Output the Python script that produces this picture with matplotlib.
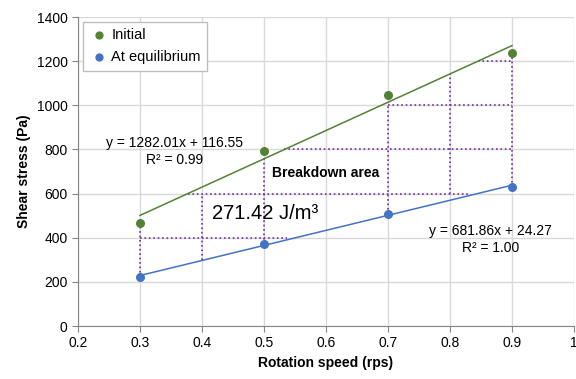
import numpy as np
import matplotlib.pyplot as plt

plt.rcParams['font.family'] = ['Liberation Sans', 'DejaVu Sans']

speed = [0.3, 0.5, 0.7, 0.9]
initial = [467, 792, 1048, 1237]
equilibrium = [220, 373, 506, 632]

# trendline coefficients (slope, intercept) as shown on the chart
fit_initial = (1282.01, 116.55)
fit_equil = (681.86, 24.27)

# dotted guide lines of the breakdown area: (x0, x1, y0, y1)
guides = [
    (0.3, 0.3, 220, 467),
    (0.3, 0.537, 400, 400),
    (0.4, 0.4, 297, 600),
    (0.377, 0.83, 600, 600),
    (0.5, 0.5, 373, 792),
    (0.533, 0.9, 800, 800),
    (0.7, 0.7, 506, 1000),
    (0.7, 0.9, 1000, 1000),
    (0.8, 0.8, 600, 1142),
    (0.845, 0.9, 1200, 1200),
    (0.9, 0.9, 632, 1237),
]

green = '#548235'
blue = '#4472c4'
purple = '#7030a0'

fig = plt.figure(figsize=(5.76, 3.79), dpi=100)
ax = fig.add_axes([0.1354, 0.1398, 0.8611, 0.8153])

for x0, x1, y0, y1 in guides:
    ax.plot([x0, x1], [y0, y1], color=purple, linestyle=':', linewidth=1.2, zorder=2)

xs = np.array([speed[0], speed[-1]])
ax.plot(xs, fit_initial[0] * xs + fit_initial[1], color=green, linewidth=1.1, zorder=3)
ax.plot(xs, fit_equil[0] * xs + fit_equil[1], color=blue, linewidth=1.1, zorder=3)
ax.scatter(speed, initial, color=green, s=30, zorder=4, label='Initial')
ax.scatter(speed, equilibrium, color=blue, s=30, zorder=4, label='At equilibrium')

ax.text(0.356, 790, 'y = %.2fx + %.2f\nR² = 0.99' % fit_initial, ha='center', va='center',
        fontsize=10, linespacing=1.3, zorder=5)
ax.text(0.865, 392, 'y = %.2fx + %.2f\nR² = 1.00' % fit_equil, ha='center', va='center',
        fontsize=10, linespacing=1.3, zorder=5)
ax.text(0.6, 693, 'Breakdown area', ha='center', va='center', fontsize=10,
        fontweight='bold', zorder=5)
ax.text(0.502, 512, '271.42 J/m³', ha='center', va='center', fontsize=14.5, zorder=5)

ax.set_xlim(0.2, 1.0)
ax.set_ylim(0, 1400)
ax.set_xticks(np.arange(0.2, 1.01, 0.1))
ax.set_xticklabels(['0.2', '0.3', '0.4', '0.5', '0.6', '0.7', '0.8', '0.9', '1'])
ax.set_yticks(range(0, 1401, 200))
ax.grid(True, color='#d9d9d9', linewidth=1)
ax.set_axisbelow(True)
for s in ['top', 'right']:
    ax.spines[s].set_visible(False)
for s in ['left', 'bottom']:
    ax.spines[s].set_color('#868686')
ax.tick_params(colors='#868686', labelcolor='black', labelsize=10, length=4)
ax.set_xlabel('Rotation speed (rps)', fontsize=10, fontweight='bold')
ax.set_ylabel('Shear stress (Pa)', fontsize=10, fontweight='bold')

leg = ax.legend(loc='upper left', bbox_to_anchor=(0.01, 0.985), fontsize=10.5, handletextpad=0.2,
                handlelength=1.3, borderpad=0.45, labelspacing=0.55, fancybox=False,
                framealpha=1, edgecolor='#bfbfbf', borderaxespad=0, markerscale=0.9)
leg.get_frame().set_linewidth(1)

fig.savefig('out.png', dpi=100)
